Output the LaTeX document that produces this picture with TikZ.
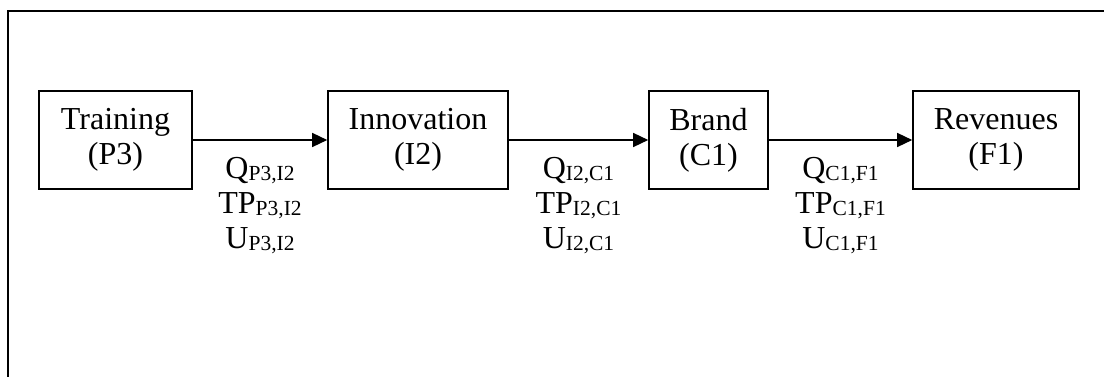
\documentclass[tikz,border=0pt]{standalone}
\usepackage{fontspec}
\setmainfont{Liberation Serif}
\usetikzlibrary{arrows.meta}
\newcommand{\sbs}[1]{\raisebox{-2pt}{\fontsize{21.5}{21.5}\selectfont #1}}
\begin{document}
\begin{tikzpicture}[x=1pt,y=-1pt,
  stage/.style={draw,line width=1.6pt,minimum height=98pt,inner sep=0pt,
    align=center,font=\fontsize{32}{35}\selectfont},
  flow/.style={line width=1.4pt,-{Triangle[length=15pt,width=14pt]}},
  vars/.style={anchor=north,align=center,inner sep=0pt,
    font=\fontsize{32}{35}\selectfont}]
  \useasboundingbox (0,0) rectangle (1104,377);
  \begin{scope}
    \clip (0,0) rectangle (1104,377);
    \draw[line width=1.5pt] (8,11) rectangle (1120,400);
  \end{scope}
  \node[stage,minimum width=153pt] (p3) at (115.5,140) {Training\\(P3)};
  \node[stage,minimum width=180pt] (i2) at (418,140) {Innovation\\(I2)};
  \node[stage,minimum width=119pt] (c1) at (708.5,140) {Brand\\(C1)};
  \node[stage,minimum width=166pt] (f1) at (996,140) {Revenues\\(F1)};
  \draw[flow] (p3) -- (i2);
  \draw[flow] (i2) -- (c1);
  \draw[flow] (c1) -- (f1);
  \node[vars] (v1) at (260,157) {Q\sbs{P3,I2}\\TP\sbs{P3,I2}\\U\sbs{P3,I2}};
  \node[vars] (v2) at (578.5,157) {Q\sbs{I2,C1}\\TP\sbs{I2,C1}\\U\sbs{I2,C1}};
  \node[vars] (v3) at (840.5,157) {Q\sbs{C1,F1}\\TP\sbs{C1,F1}\\U\sbs{C1,F1}};
\end{tikzpicture}
\end{document}
